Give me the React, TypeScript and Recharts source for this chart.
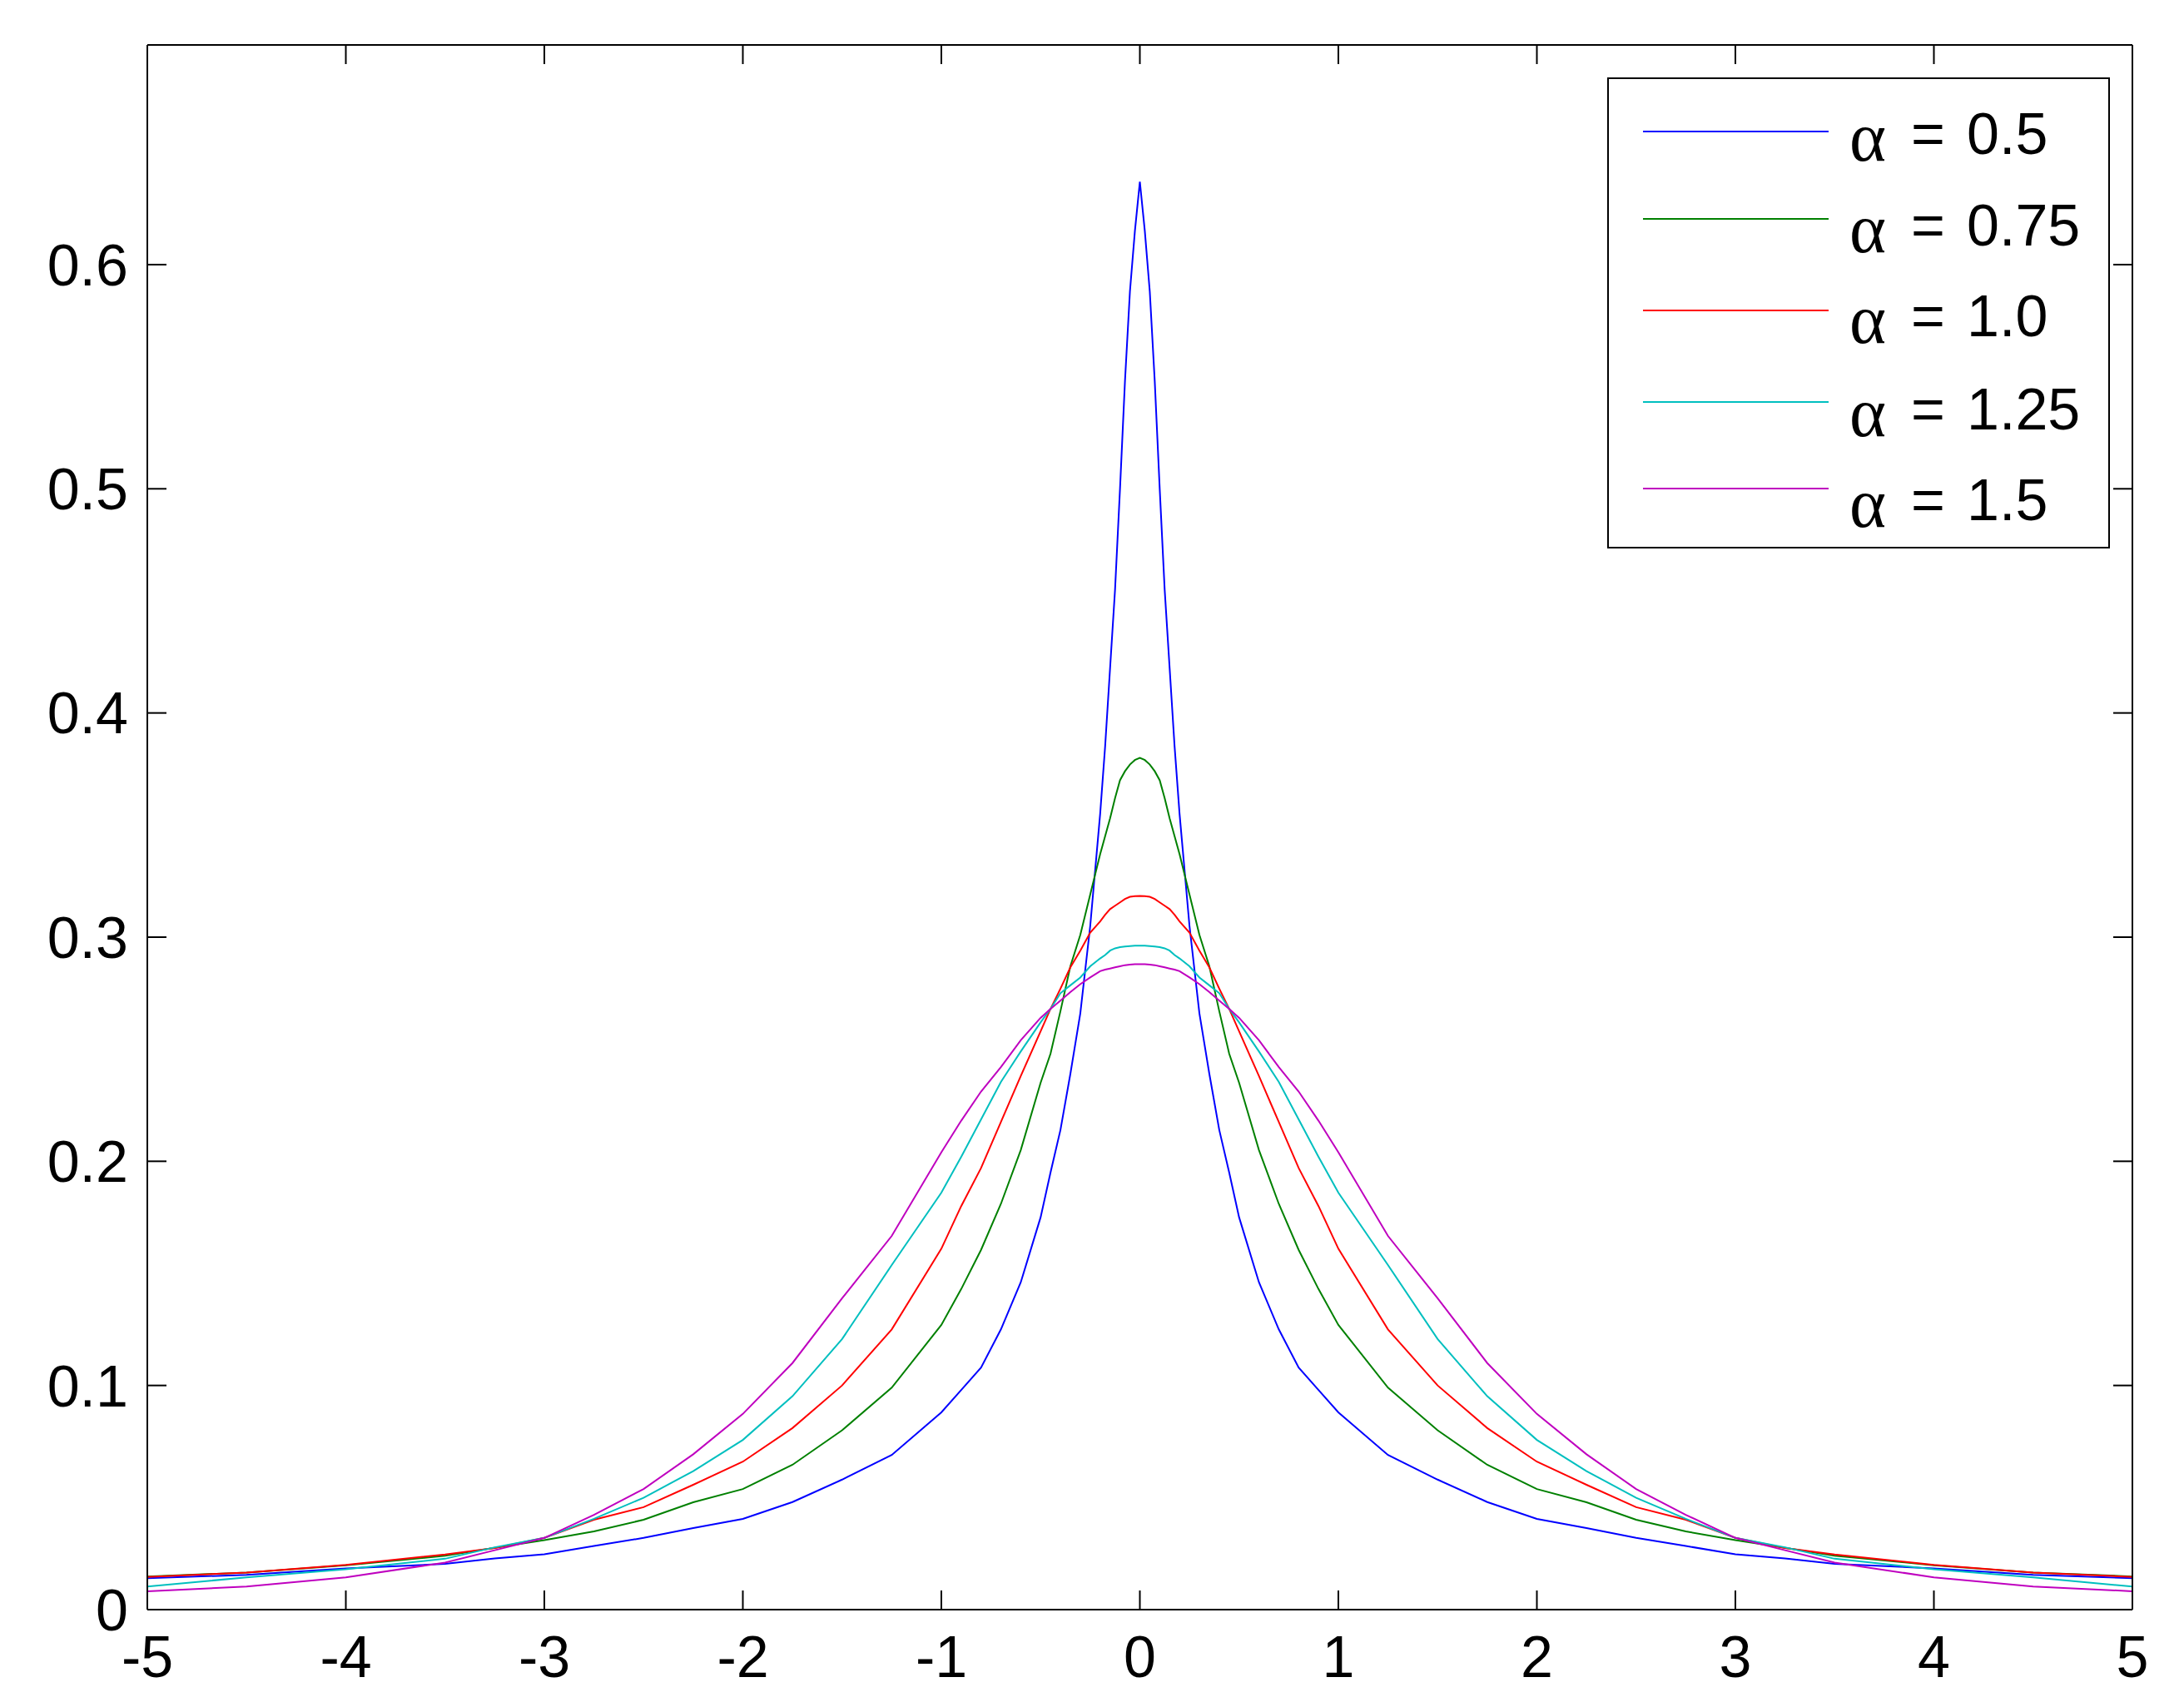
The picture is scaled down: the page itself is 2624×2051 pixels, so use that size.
import { LineChart, Line, XAxis, YAxis, Legend } from 'recharts';

// sample positions (x) shared by all curves
const xs = [
  -5, -4.5, -4, -3.5, -3.25, -3, -2.75, -2.5, -2.25, -2, -1.75, -1.5, -1.25, -1, -0.9, -0.8, -0.7, -0.6, -0.5,
  -0.45, -0.4, -0.35, -0.3, -0.25, -0.2, -0.175, -0.15, -0.125, -0.1, -0.075, -0.05, -0.025, 0, 0.025, 0.05,
  0.075, 0.1, 0.125, 0.15, 0.175, 0.2, 0.25, 0.3, 0.35, 0.4, 0.45, 0.5, 0.6, 0.7, 0.8, 0.9, 1, 1.25, 1.5, 1.75,
  2, 2.25, 2.5, 2.75, 3, 3.25, 3.5, 4, 4.5, 5,
];

// alpha = 0.5
const a05 = [
  0.014, 0.0155, 0.0184, 0.0204, 0.0228, 0.0247, 0.0284, 0.032, 0.0364, 0.0405, 0.048, 0.058, 0.069, 0.088, 0.098,
  0.108, 0.125, 0.146, 0.175, 0.195, 0.214, 0.239, 0.266, 0.305, 0.355, 0.385, 0.42, 0.455, 0.5, 0.548, 0.588,
  0.615, 0.637, 0.615, 0.588, 0.548, 0.5, 0.455, 0.42, 0.385, 0.355, 0.305, 0.266, 0.239, 0.214, 0.195, 0.175,
  0.146, 0.125, 0.108, 0.098, 0.088, 0.069, 0.058, 0.048, 0.0405, 0.0364, 0.032, 0.0284, 0.0247, 0.0228, 0.0204,
  0.0184, 0.0155, 0.014,
];

// alpha = 0.75
const a075 = [
  0.0148, 0.0165, 0.0198, 0.024, 0.0276, 0.031, 0.0349, 0.0401, 0.0479, 0.0538, 0.0646, 0.08, 0.099, 0.127, 0.143,
  0.1605, 0.181, 0.205, 0.235, 0.248, 0.267, 0.287, 0.301, 0.319, 0.337, 0.345, 0.353, 0.362, 0.37, 0.374, 0.377,
  0.379, 0.38, 0.379, 0.377, 0.374, 0.37, 0.362, 0.353, 0.345, 0.337, 0.319, 0.301, 0.287, 0.267, 0.248, 0.235,
  0.205, 0.181, 0.1605, 0.143, 0.127, 0.099, 0.08, 0.0646, 0.0538, 0.0479, 0.0401, 0.0349, 0.031, 0.0276, 0.024,
  0.0198, 0.0165, 0.0148,
];

// alpha = 1.0
const a10 = [
  0.0146, 0.0165, 0.02, 0.0246, 0.0275, 0.032, 0.0401, 0.0457, 0.0557, 0.066, 0.081, 0.1, 0.125, 0.161, 0.18,
  0.197, 0.2175, 0.238, 0.258, 0.268, 0.277, 0.2865, 0.294, 0.302, 0.307, 0.31, 0.3125, 0.314, 0.3155, 0.317,
  0.318, 0.3183, 0.3184, 0.3183, 0.318, 0.317, 0.3155, 0.314, 0.3125, 0.31, 0.307, 0.302, 0.294, 0.2865, 0.277,
  0.268, 0.258, 0.238, 0.2175, 0.197, 0.18, 0.161, 0.125, 0.1, 0.081, 0.066, 0.0557, 0.0457, 0.0401, 0.032,
  0.0275, 0.0246, 0.02, 0.0165, 0.0146,
];

// alpha = 1.25
const a125 = [
  0.0103, 0.0144, 0.018, 0.0227, 0.0278, 0.032, 0.0405, 0.0499, 0.0618, 0.0757, 0.0952, 0.1207, 0.1537, 0.186,
  0.202, 0.2187, 0.2354, 0.249, 0.262, 0.268, 0.275, 0.2785, 0.282, 0.287, 0.2905, 0.292, 0.294, 0.295, 0.2955,
  0.2958, 0.296, 0.2962, 0.2962, 0.2962, 0.296, 0.2958, 0.2955, 0.295, 0.294, 0.292, 0.2905, 0.287, 0.282, 0.2785,
  0.275, 0.268, 0.262, 0.249, 0.2354, 0.2187, 0.202, 0.186, 0.1537, 0.1207, 0.0952, 0.0757, 0.0618, 0.0499,
  0.0405, 0.032, 0.0278, 0.0227, 0.018, 0.0144, 0.0103,
];

// alpha = 1.5
const a15 = [
  0.0082, 0.0103, 0.0144, 0.021, 0.0265, 0.032, 0.0423, 0.0538, 0.0693, 0.0873, 0.11, 0.1389, 0.1667, 0.204,
  0.2181, 0.2311, 0.242, 0.254, 0.264, 0.268, 0.2717, 0.2755, 0.279, 0.282, 0.2848, 0.2855, 0.286, 0.2865, 0.287,
  0.2875, 0.2877, 0.2879, 0.2879, 0.2879, 0.2877, 0.2875, 0.287, 0.2865, 0.286, 0.2855, 0.2848, 0.282, 0.279,
  0.2755, 0.2717, 0.268, 0.264, 0.254, 0.242, 0.2311, 0.2181, 0.204, 0.1667, 0.1389, 0.11, 0.0873, 0.0693,
  0.0538, 0.0423, 0.032, 0.0265, 0.021, 0.0144, 0.0103, 0.0082,
];

const xTicks = [-5, -4, -3, -2, -1, 0, 1, 2, 3, 4, 5];
const yTicks = [0, 0.1, 0.2, 0.3, 0.4, 0.5, 0.6];

const seriesKeys = ['a05', 'a075', 'a10', 'a125', 'a15'];
const seriesValues = ['0.5', '0.75', '1.0', '1.25', '1.5'];
const seriesColors = ['#0000ff', '#008000', '#ff0000', '#00bfbf', '#bf00bf'];

const data = xs.map((x, i) => ({ x, a05: a05[i], a075: a075[i], a10: a10[i], a125: a125[i], a15: a15[i] }));

const FONT = '"Liberation Sans", Arial, sans-serif';
const tickStyle = { fill: '#000', fontSize: 70, fontFamily: FONT };

function AlphaLegend() {
  return (
    <svg width={604} height={566} style={{ display: 'block' }}>
      <rect x={1} y={1} width={602} height={564} fill="#fff" stroke="#000" strokeWidth={2} />
      {seriesKeys.map((k, i) => {
        const lineY = [65, 170, 280, 390, 494][i];
        const base = [92, 202, 311, 423, 532][i];
        return (
          <g key={k}>
            <line x1={43} x2={266} y1={lineY} y2={lineY} stroke={seriesColors[i]} strokeWidth={2} />
            <text x={291} y={base + 8} fontFamily='"Liberation Serif", "DejaVu Serif", serif' fontSize={84}>
              α
            </text>
            <text x={365} y={base} fontFamily={FONT} fontSize={70}>
              =
            </text>
            <text x={432} y={base} fontFamily={FONT} fontSize={70}>
              {seriesValues[i]}
            </text>
          </g>
        );
      })}
    </svg>
  );
}

export default function App() {
  return (
    <div style={{ position: 'absolute', left: 0, top: 0, background: '#fff' }}>
      <LineChart width={2624} height={2051} data={data} margin={{ top: 24, right: 2, bottom: 87, left: 117 }}>
        <XAxis
          dataKey="x"
          type="number"
          domain={[-5, 5]}
          ticks={xTicks}
          interval={0}
          allowDataOverflow
          height={30}
          tickSize={-23}
          tickMargin={54}
          tick={tickStyle}
          axisLine={{ stroke: '#000', strokeWidth: 2 }}
          tickLine={{ stroke: '#000', strokeWidth: 2 }}
        />
        <XAxis
          xAxisId="top"
          orientation="top"
          dataKey="x"
          type="number"
          domain={[-5, 5]}
          ticks={xTicks}
          interval={0}
          allowDataOverflow
          height={30}
          tickSize={-23}
          tickFormatter={() => ''}
          axisLine={{ stroke: '#000', strokeWidth: 2 }}
          tickLine={{ stroke: '#000', strokeWidth: 2 }}
        />
        <YAxis
          type="number"
          domain={[0, 0.698]}
          ticks={yTicks}
          interval={0}
          allowDataOverflow
          width={60}
          tickSize={-23}
          tickMargin={46}
          tick={tickStyle}
          axisLine={{ stroke: '#000', strokeWidth: 2 }}
          tickLine={{ stroke: '#000', strokeWidth: 2 }}
        />
        <YAxis
          yAxisId="right"
          orientation="right"
          type="number"
          domain={[0, 0.698]}
          ticks={yTicks}
          interval={0}
          allowDataOverflow
          width={60}
          tickSize={-23}
          tickFormatter={() => ''}
          axisLine={{ stroke: '#000', strokeWidth: 2 }}
          tickLine={{ stroke: '#000', strokeWidth: 2 }}
        />
        {seriesKeys.map((k, i) => (
          <Line
            key={k}
            dataKey={k}
            type="linear"
            stroke={seriesColors[i]}
            strokeWidth={2}
            dot={false}
            activeDot={false}
            isAnimationActive={false}
          />
        ))}
        <Legend
          layout="vertical"
          align="center"
          verticalAlign="middle"
          content={() => <AlphaLegend />}
          wrapperStyle={{ left: 1931, top: 93, width: 604, height: 566 }}
        />
      </LineChart>
    </div>
  );
}
